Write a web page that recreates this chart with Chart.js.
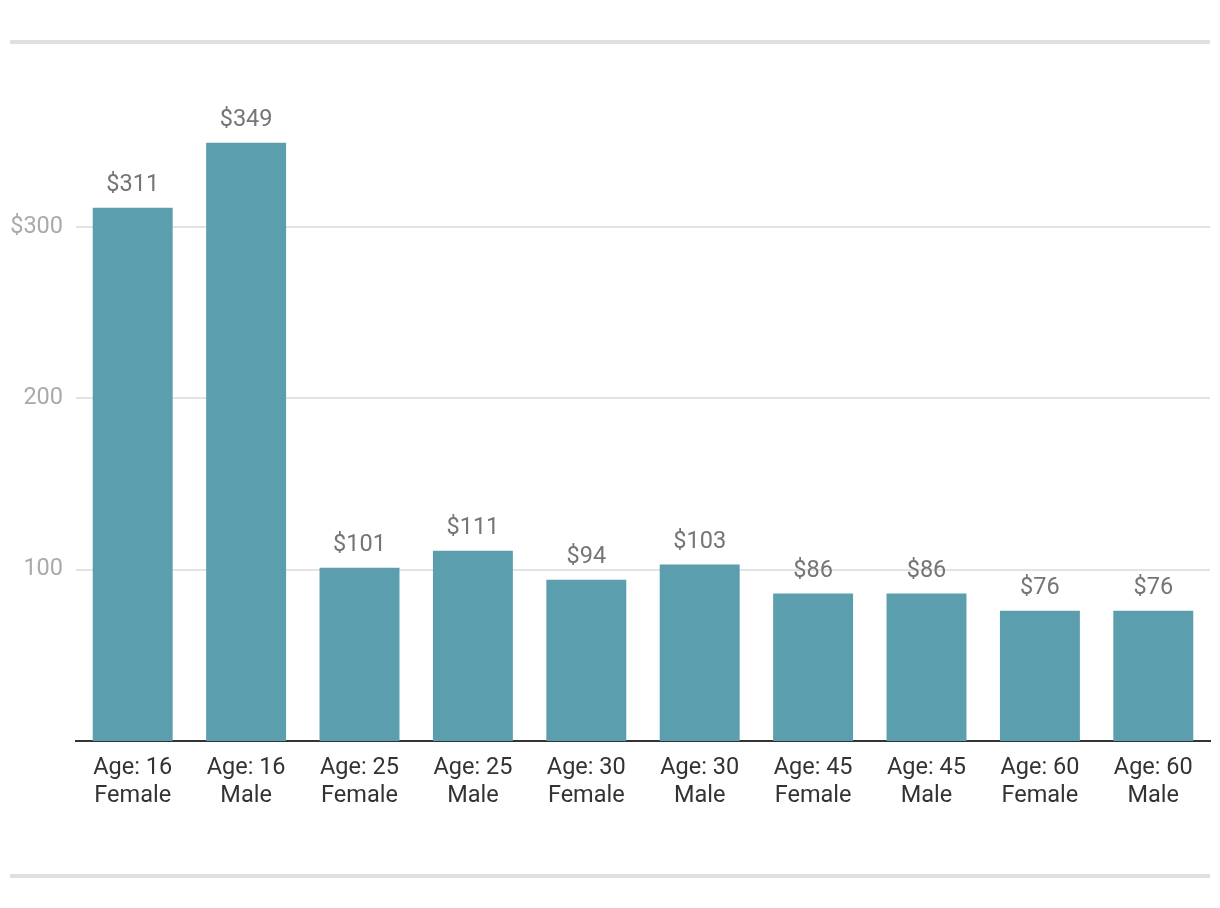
<!DOCTYPE html>
<html>
<head>
<meta charset="utf-8">
<script src="https://cdn.jsdelivr.net/npm/chart.js@4/dist/chart.umd.min.js"></script>
<style>
  html, body { margin: 0; padding: 0; background: #fff; }
  #wrap { position: relative; width: 1220px; height: 908px; }
  .rule { position: absolute; left: 10px; width: 1200px; height: 4px; background: #e0e0e0; }
  canvas { position: absolute; left: 0; top: 0; }
</style>
</head>
<body>
<div id="wrap">
  <div class="rule" style="top:40px"></div>
  <div class="rule" style="top:874px"></div>
  <canvas id="c" width="1220" height="908"></canvas>
</div>
<script>
const categories = [
  ["Age: 16", "Female"], ["Age: 16", "Male"],
  ["Age: 25", "Female"], ["Age: 25", "Male"],
  ["Age: 30", "Female"], ["Age: 30", "Male"],
  ["Age: 45", "Female"], ["Age: 45", "Male"],
  ["Age: 60", "Female"], ["Age: 60", "Male"]
];
const values = [311, 349, 101, 111, 94, 103, 86, 86, 76, 76];
const yTicks = [100, 200, 300];
const yTickLabels = ["100", "200", "$300"];

const labelPlugin = {
  id: 'barLabels',
  afterDatasetsDraw(chart) {
    const ctx = chart.ctx;
    const meta = chart.getDatasetMeta(0);
    ctx.save();
    ctx.font = '23.5px Roboto';
    ctx.fillStyle = '#757575';
    ctx.textAlign = 'center';
    ctx.textBaseline = 'alphabetic';
    meta.data.forEach((bar, i) => {
      ctx.fillText('$' + values[i], bar.x, bar.y - 16.5);
    });
    ctx.restore();
  }
};

new Chart(document.getElementById('c'), {
  type: 'bar',
  data: {
    labels: categories,
    datasets: [{
      data: values,
      backgroundColor: '#5b9eae',
      barPercentage: 0.705,
      categoryPercentage: 1.0
    }]
  },
  options: {
    responsive: false,
    animation: false,
    layout: { padding: { top: 141, right: 10, left: 0, bottom: 0 } },
    plugins: { legend: { display: false }, tooltip: { enabled: false } },
    scales: {
      x: {
        grid: { display: false, drawTicks: false },
        border: { display: true, color: '#333333', width: 2 },
        ticks: { color: '#333333', font: { family: 'Roboto', size: 23.5, lineHeight: 1.19 }, padding: 13, maxRotation: 0, autoSkip: false },
        afterFit(s) { s.height = 167; }
      },
      y: {
        min: 0, max: 350,
        grid: { color: '#e3e3e3', lineWidth: 2, drawTicks: false },
        border: { display: false },
        ticks: {
          color: '#aaaaaa', font: { family: 'Roboto', size: 23.5 }, padding: 13,
          callback: (v) => { const i = yTicks.indexOf(v); return i >= 0 ? yTickLabels[i] : ''; }
        },
        afterBuildTicks(s) { s.ticks = yTicks.map(v => ({ value: v })); },
        afterFit(s) { s.width = 76; }
      }
    }
  },
  plugins: [labelPlugin]
});
</script>
</body>
</html>
